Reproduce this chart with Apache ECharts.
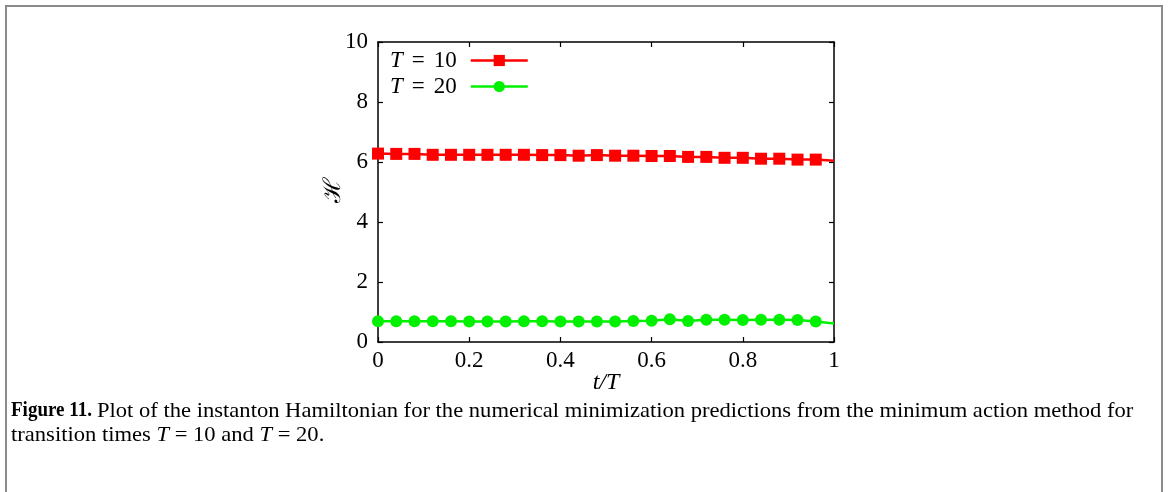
<!DOCTYPE html>
<html>
<head>
<meta charset="utf-8">
<script src="https://cdn.jsdelivr.net/npm/echarts@6/dist/echarts.min.js"></script>
<style>html,body{margin:0;padding:0;background:#fff}#c{width:1168px;height:492px}</style>
</head>
<body>
<div id="c"></div>
<script>
// t/T sample positions (markers every 0.04, line ends at 1)
const tValues = [0,0.04,0.08,0.12,0.16,0.20,0.24,0.28,0.32,0.36,0.40,0.44,0.48,0.52,0.56,0.60,0.64,0.68,0.72,0.76,0.80,0.84,0.88,0.92,0.96,1.0];
const hT10 = [6.28,6.27,6.27,6.24,6.24,6.24,6.24,6.24,6.24,6.23,6.23,6.21,6.23,6.21,6.21,6.20,6.20,6.17,6.17,6.14,6.14,6.11,6.11,6.08,6.08,6.04];
const hT20 = [0.69,0.69,0.69,0.69,0.69,0.68,0.68,0.68,0.69,0.69,0.68,0.68,0.68,0.68,0.70,0.71,0.76,0.70,0.74,0.74,0.73,0.74,0.74,0.73,0.68,0.62];
const xTicks = [0,0.2,0.4,0.6,0.8,1];
const yTicks = [0,2,4,6,8,10];
const seriesNames = ['T = 10','T = 20'];
const yName = 'ℋ';
const xName = 't/T';
const captionBold = 'Figure 11.';
const captionLine1 = 'Plot of the instanton Hamiltonian for the numerical minimization predictions from the minimum action method for';
const captionLine2a = 'transition times ';

function build(vals){
  return tValues.map((t,i)=> i===tValues.length-1 ? {value:[t,vals[i]],symbol:'none'} : {value:[t,vals[i]]});
}
const serif = 'Liberation Serif';
const green = '#00f000';
const chart = echarts.init(document.getElementById('c'));
const axisLineStyle = {color:'#000',width:1.5};
const tick = {show:true,inside:true,length:5,lineStyle:{color:'#000',width:1.2}};
chart.setOption({
  animation:false,
  backgroundColor:'#fff',
  grid:{left:378,right:334,top:42,bottom:150,show:false},
  legend:{
    orient:'vertical',left:385,top:44,align:'right',itemWidth:57,itemHeight:14,itemGap:3,
    data:seriesNames,
    lineStyle:{width:2.5},
    formatter:function(n){return '{i|T}{s|=}'+n.split('= ')[1]+'{p|}';},
    textStyle:{fontFamily:serif,fontSize:23,color:'#000',
      rich:{i:{fontStyle:'italic',fontFamily:serif,fontSize:23},
            s:{fontFamily:serif,fontSize:23,padding:[0,9,0,9]},
            p:{width:9}}}
  },
  xAxis:[{
    type:'value',min:0,max:1,interval:0.2,position:'bottom',
    axisLine:{show:true,onZero:false,lineStyle:axisLineStyle},
    axisTick:tick,
    axisLabel:{fontFamily:serif,fontSize:23,color:'#000',margin:7,formatter:v=>String(v)},
    splitLine:{show:false}
  },{
    type:'value',min:0,max:1,interval:0.2,position:'top',
    axisLine:{show:true,onZero:false,lineStyle:axisLineStyle},
    axisTick:tick,
    axisLabel:{show:false},splitLine:{show:false}
  }],
  yAxis:[{
    type:'value',min:0,max:10,interval:2,position:'left',
    axisLine:{show:true,onZero:false,lineStyle:axisLineStyle},
    axisTick:tick,
    axisLabel:{fontFamily:serif,fontSize:23,color:'#000',margin:10},
    splitLine:{show:false}
  },{
    type:'value',min:0,max:10,interval:2,position:'right',
    axisLine:{show:true,onZero:false,lineStyle:axisLineStyle},
    axisTick:tick,
    axisLabel:{show:false},splitLine:{show:false}
  }],
  series:[{
    name:seriesNames[0],type:'line',data:build(hT10),symbol:'rect',symbolSize:12,clip:false,
    lineStyle:{color:'#ff0000',width:2.5},itemStyle:{color:'#ff0000'}
  },{
    name:seriesNames[1],type:'line',data:build(hT20),symbol:'circle',symbolSize:12,clip:false,
    lineStyle:{color:green,width:2.5},itemStyle:{color:green}
  }],
  graphic:[
    {type:'line',shape:{x1:6,y1:5,x2:6,y2:492},style:{stroke:'#8a8a8a',lineWidth:2}},
    {type:'line',shape:{x1:5,y1:6,x2:1163,y2:6},style:{stroke:'#8a8a8a',lineWidth:2}},
    {type:'line',shape:{x1:1162,y1:5,x2:1162,y2:492},style:{stroke:'#8a8a8a',lineWidth:2}},
    {type:'text',x:334,y:190,rotation:Math.PI/2,style:{
      text:yName,x:0,y:0,align:'center',verticalAlign:'middle',
      font:'24px "Liberation Serif"',fill:'#000'
    }},
    {type:'text',x:606,y:383,style:{
      text:xName,x:0,y:0,align:'center',verticalAlign:'middle',
      font:'italic 24px "Liberation Serif"',fill:'#000'
    }},
    {type:'text',x:11,y:401,scaleX:0.95,style:{
      text:captionBold,x:0,y:0,verticalAlign:'top',
      font:'bold 20px "Liberation Serif"',fill:'#000'
    }},
    {type:'text',x:97,y:401,scaleX:1.075,style:{
      text:captionLine1,x:0,y:0,verticalAlign:'top',
      font:'21px "Liberation Serif"',fill:'#000'
    }},
    {type:'text',x:11,y:425,scaleX:1.075,style:{
      text:'{r|'+captionLine2a+'}{i|T}{r| = 10 and }{i|T}{r| = 20.}',x:0,y:0,verticalAlign:'top',
      rich:{r:{fontFamily:serif,fontSize:21,fill:'#000'},i:{fontFamily:serif,fontStyle:'italic',fontSize:21,fill:'#000'}}
    }}
  ]
});
</script>
</body>
</html>
